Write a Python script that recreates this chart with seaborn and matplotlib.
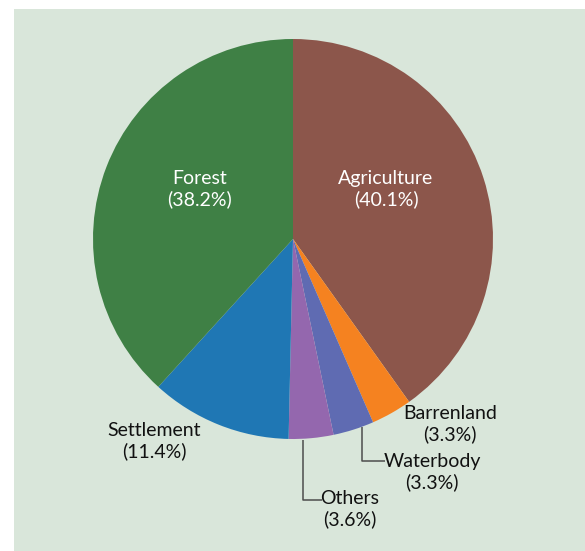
import matplotlib
matplotlib.use("Agg")
import matplotlib.pyplot as plt
import seaborn as sns
from matplotlib.patches import Rectangle

sns.set_theme(style="white")
plt.rcParams['font.family'] = ['Lato', 'DejaVu Sans']

categories = ["Agriculture", "Barrenland", "Waterbody", "Others", "Settlement", "Forest"]
values = [40.1, 3.3, 3.3, 3.6, 11.4, 38.2]
pct_labels = ["(40.1%)", "(3.3%)", "(3.3%)", "(3.6%)", "(11.4%)", "(38.2%)"]
colors = ["#8c564b", "#f58220", "#5f6bb2", "#9467ae", "#1f77b4", "#3f8045"]

W, H, DPI = 585, 551, 100
CX, CY, R = 293, 239, 200  # pie centre and radius in pixels
BG = "#d9e6da"


def px(x, y):
    return ((x - CX) / R, (CY - y) / R)


fig = plt.figure(figsize=(W / DPI, H / DPI), dpi=DPI, facecolor=BG)
ax = fig.add_axes([0, 0, 1, 1])
ax.set_facecolor("none")
# white margins at top and left
ax.add_patch(Rectangle((0, 1 - 9 / H), 1, 9 / H, transform=fig.transFigure,
                       facecolor="white", edgecolor="none", zorder=0))
ax.add_patch(Rectangle((0, 0), 14 / W, 1, transform=fig.transFigure,
                       facecolor="white", edgecolor="none", zorder=0))
wedges, _ = ax.pie(values, colors=colors, startangle=90, counterclock=False, radius=1,
                   wedgeprops=dict(linewidth=0))
for w in wedges:
    w.set_zorder(2)
ax.set_xlim(-CX / R, (W - CX) / R)
ax.set_ylim(-(H - CY) / R, CY / R)
ax.set_aspect("auto")
ax.axis("off")

label_pos = {
    "Agriculture": (386, 189, "white"),
    "Forest": (200, 189, "white"),
    "Barrenland": (450, 424, "#111111"),
    "Waterbody": (432, 472, "#111111"),
    "Others": (350, 509, "#111111"),
    "Settlement": (154, 441, "#111111"),
}
for cat, pct in zip(categories, pct_labels):
    x, y, c = label_pos[cat]
    ax.text(*px(x, y), f"{cat}\n{pct}", ha="center", va="center", color=c,
            fontsize=14, linespacing=1.25, zorder=5)

# leader lines
line_kw = dict(color="#4d4d4d", linewidth=1.1, solid_capstyle="butt", zorder=4)
ax.plot(*zip(px(362, 427), px(362, 461), px(385, 461)), **line_kw)
ax.plot(*zip(px(303, 440), px(303, 500), px(322, 500)), **line_kw)

fig.savefig("out.png", dpi=DPI, facecolor=BG)
